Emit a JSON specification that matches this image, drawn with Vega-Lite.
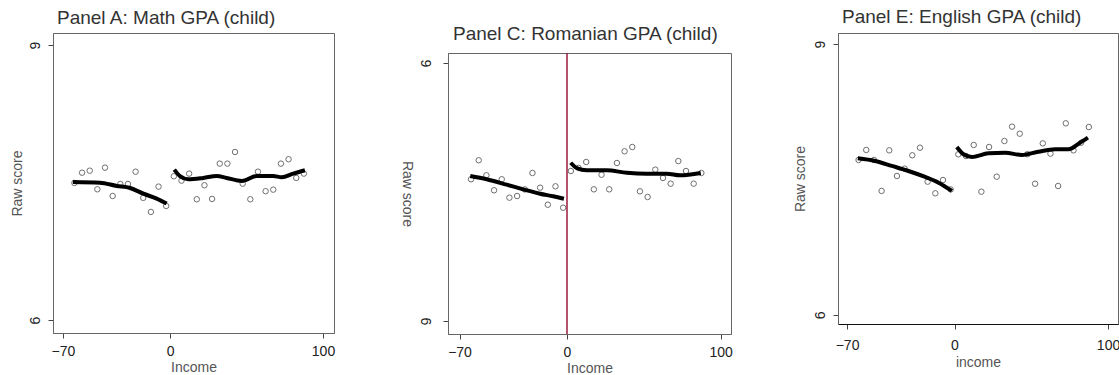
{
  "$schema": "https://vega.github.io/schema/vega-lite/v6.json",
  "padding": {"left": 9, "top": 7, "right": 0, "bottom": 0},
  "background": "white",
  "config": {
    "font": "Liberation Sans",
    "view": {"stroke": "#666", "strokeWidth": 1},
    "axis": {"grid": false, "domainColor": "#666", "tickColor": "#444", "tickSize": 5, "labelFontSize": 14, "titleFontSize": 14, "titleFontWeight": "normal", "labelColor": "#222", "titleColor": "#555", "labelFont": "Liberation Sans", "titleFont": "Liberation Sans"},
    "title": {"fontSize": 19, "fontWeight": "normal", "color": "#333", "font": "Liberation Sans"}
  },
  "datasets": {
    "points": [
      {"panel": "A", "income": -62.5, "score": 7.495}, {"panel": "A", "income": -57.5, "score": 7.607}, {"panel": "A", "income": -52.5, "score": 7.629}, {"panel": "A", "income": -47.5, "score": 7.426}, {"panel": "A", "income": -42.5, "score": 7.662}, {"panel": "A", "income": -37.5, "score": 7.353}, {"panel": "A", "income": -32.5, "score": 7.484}, {"panel": "A", "income": -27.5, "score": 7.484}, {"panel": "A", "income": -22.5, "score": 7.618}, {"panel": "A", "income": -17.5, "score": 7.332}, {"panel": "A", "income": -12.5, "score": 7.179}, {"panel": "A", "income": -7.5, "score": 7.455}, {"panel": "A", "income": -2.5, "score": 7.244},
      {"panel": "A", "income": 2.5, "score": 7.568}, {"panel": "A", "income": 7.5, "score": 7.52}, {"panel": "A", "income": 12.5, "score": 7.597}, {"panel": "A", "income": 17.5, "score": 7.317}, {"panel": "A", "income": 22.5, "score": 7.47}, {"panel": "A", "income": 27.5, "score": 7.321}, {"panel": "A", "income": 32.5, "score": 7.706}, {"panel": "A", "income": 37.5, "score": 7.706}, {"panel": "A", "income": 42.5, "score": 7.833}, {"panel": "A", "income": 47.5, "score": 7.487}, {"panel": "A", "income": 52.5, "score": 7.317}, {"panel": "A", "income": 57.5, "score": 7.618}, {"panel": "A", "income": 62.5, "score": 7.405}, {"panel": "A", "income": 67.5, "score": 7.422}, {"panel": "A", "income": 72.5, "score": 7.706}, {"panel": "A", "income": 77.5, "score": 7.754}, {"panel": "A", "income": 82.5, "score": 7.55}, {"panel": "A", "income": 87.5, "score": 7.597},
      {"panel": "C", "income": -62.5, "score": 7.648}, {"panel": "C", "income": -57.5, "score": 7.869}, {"panel": "C", "income": -52.5, "score": 7.694}, {"panel": "C", "income": -47.5, "score": 7.52}, {"panel": "C", "income": -42.5, "score": 7.648}, {"panel": "C", "income": -37.5, "score": 7.434}, {"panel": "C", "income": -32.5, "score": 7.453}, {"panel": "C", "income": -27.5, "score": 7.53}, {"panel": "C", "income": -22.5, "score": 7.721}, {"panel": "C", "income": -17.5, "score": 7.55}, {"panel": "C", "income": -12.5, "score": 7.352}, {"panel": "C", "income": -7.5, "score": 7.566}, {"panel": "C", "income": -2.5, "score": 7.317},
      {"panel": "C", "income": 2.5, "score": 7.744}, {"panel": "C", "income": 7.5, "score": 7.78}, {"panel": "C", "income": 12.5, "score": 7.849}, {"panel": "C", "income": 17.5, "score": 7.531}, {"panel": "C", "income": 22.5, "score": 7.701}, {"panel": "C", "income": 27.5, "score": 7.531}, {"panel": "C", "income": 32.5, "score": 7.837}, {"panel": "C", "income": 37.5, "score": 7.973}, {"panel": "C", "income": 42.5, "score": 8.023}, {"panel": "C", "income": 47.5, "score": 7.508}, {"panel": "C", "income": 52.5, "score": 7.442}, {"panel": "C", "income": 57.5, "score": 7.76}, {"panel": "C", "income": 62.5, "score": 7.663}, {"panel": "C", "income": 67.5, "score": 7.597}, {"panel": "C", "income": 72.5, "score": 7.86}, {"panel": "C", "income": 77.5, "score": 7.744}, {"panel": "C", "income": 82.5, "score": 7.597}, {"panel": "C", "income": 87.5, "score": 7.721},
      {"panel": "E", "income": -62.5, "score": 7.716}, {"panel": "E", "income": -57.5, "score": 7.827}, {"panel": "E", "income": -52.5, "score": 7.716}, {"panel": "E", "income": -47.5, "score": 7.373}, {"panel": "E", "income": -42.5, "score": 7.823}, {"panel": "E", "income": -37.5, "score": 7.539}, {"panel": "E", "income": -32.5, "score": 7.62}, {"panel": "E", "income": -27.5, "score": 7.768}, {"panel": "E", "income": -22.5, "score": 7.852}, {"panel": "E", "income": -17.5, "score": 7.476}, {"panel": "E", "income": -12.5, "score": 7.347}, {"panel": "E", "income": -7.5, "score": 7.494}, {"panel": "E", "income": -2.5, "score": 7.39},
      {"panel": "E", "income": 2.5, "score": 7.779}, {"panel": "E", "income": 7.5, "score": 7.76}, {"panel": "E", "income": 12.5, "score": 7.882}, {"panel": "E", "income": 17.5, "score": 7.365}, {"panel": "E", "income": 22.5, "score": 7.86}, {"panel": "E", "income": 27.5, "score": 7.531}, {"panel": "E", "income": 32.5, "score": 7.926}, {"panel": "E", "income": 37.5, "score": 8.085}, {"panel": "E", "income": 42.5, "score": 8.007}, {"panel": "E", "income": 47.5, "score": 7.78}, {"panel": "E", "income": 52.5, "score": 7.453}, {"panel": "E", "income": 57.5, "score": 7.9}, {"panel": "E", "income": 62.5, "score": 7.786}, {"panel": "E", "income": 67.5, "score": 7.428}, {"panel": "E", "income": 72.5, "score": 8.122}, {"panel": "E", "income": 77.5, "score": 7.823}, {"panel": "E", "income": 82.5, "score": 7.907}, {"panel": "E", "income": 87.5, "score": 8.081}
    ],
    "fit": [
      {"panel": "A", "side": "L", "income": -63.5, "score": 7.506}, {"panel": "A", "side": "L", "income": -45.8, "score": 7.498}, {"panel": "A", "side": "L", "income": -34.8, "score": 7.462}, {"panel": "A", "side": "L", "income": -26.1, "score": 7.44}, {"panel": "A", "side": "L", "income": -17.4, "score": 7.378}, {"panel": "A", "side": "L", "income": -8.7, "score": 7.324}, {"panel": "A", "side": "L", "income": -2.2, "score": 7.27},
      {"panel": "A", "side": "R", "income": 2.8, "score": 7.64}, {"panel": "A", "side": "R", "income": 6.5, "score": 7.57}, {"panel": "A", "side": "R", "income": 12, "score": 7.535}, {"panel": "A", "side": "R", "income": 21.8, "score": 7.55}, {"panel": "A", "side": "R", "income": 30.5, "score": 7.571}, {"panel": "A", "side": "R", "income": 37, "score": 7.55}, {"panel": "A", "side": "R", "income": 46.9, "score": 7.517}, {"panel": "A", "side": "R", "income": 56.7, "score": 7.571}, {"panel": "A", "side": "R", "income": 67.5, "score": 7.571}, {"panel": "A", "side": "R", "income": 73, "score": 7.557}, {"panel": "A", "side": "R", "income": 80.6, "score": 7.597}, {"panel": "A", "side": "R", "income": 88.2, "score": 7.634},
      {"panel": "C", "side": "L", "income": -63, "score": 7.686}, {"panel": "C", "side": "L", "income": -52.3, "score": 7.648}, {"panel": "C", "side": "L", "income": -39.3, "score": 7.585}, {"panel": "C", "side": "L", "income": -28.5, "score": 7.531}, {"panel": "C", "side": "L", "income": -17.6, "score": 7.48}, {"panel": "C", "side": "L", "income": -8.9, "score": 7.45}, {"panel": "C", "side": "L", "income": -2, "score": 7.422},
      {"panel": "C", "side": "R", "income": 2.4, "score": 7.84}, {"panel": "C", "side": "R", "income": 6.3, "score": 7.779}, {"panel": "C", "side": "R", "income": 12.8, "score": 7.752}, {"panel": "C", "side": "R", "income": 25.9, "score": 7.752}, {"panel": "C", "side": "R", "income": 38.9, "score": 7.724}, {"panel": "C", "side": "R", "income": 51.9, "score": 7.713}, {"panel": "C", "side": "R", "income": 64.9, "score": 7.713}, {"panel": "C", "side": "R", "income": 73.6, "score": 7.694}, {"panel": "C", "side": "R", "income": 87.1, "score": 7.721},
      {"panel": "E", "side": "L", "income": -63, "score": 7.735}, {"panel": "E", "side": "L", "income": -51.7, "score": 7.705}, {"panel": "E", "side": "L", "income": -40.8, "score": 7.65}, {"panel": "E", "side": "L", "income": -30, "score": 7.594}, {"panel": "E", "side": "L", "income": -19.1, "score": 7.528}, {"panel": "E", "side": "L", "income": -10.4, "score": 7.465}, {"panel": "E", "side": "L", "income": -1.7, "score": 7.373},
      {"panel": "E", "side": "R", "income": 1.5, "score": 7.86}, {"panel": "E", "side": "R", "income": 5.9, "score": 7.779}, {"panel": "E", "side": "R", "income": 11.3, "score": 7.749}, {"panel": "E", "side": "R", "income": 22.1, "score": 7.79}, {"panel": "E", "side": "R", "income": 33, "score": 7.797}, {"panel": "E", "side": "R", "income": 43.9, "score": 7.771}, {"panel": "E", "side": "R", "income": 54.7, "score": 7.808}, {"panel": "E", "side": "R", "income": 65.6, "score": 7.834}, {"panel": "E", "side": "R", "income": 74.3, "score": 7.834}, {"panel": "E", "side": "R", "income": 80.8, "score": 7.896}, {"panel": "E", "side": "R", "income": 86.9, "score": 7.963}
    ],
    "cutoff": [{"panel": "C", "income": 0}]
  },
  "spacing": 59,
  "hconcat": [
    {
      "spacing": 62,
      "hconcat": [
        {
          "width": 281, "height": 300,
          "title": {"text": "Panel A: Math GPA (child)", "anchor": "start", "frame": "group", "dx": 4, "offset": 5},
          "layer": [
            {"data": {"name": "points"}, "transform": [{"filter": "datum.panel == 'A'"}],
             "mark": {"type": "point", "shape": "circle", "filled": false, "size": 30, "stroke": "#333", "strokeWidth": 1},
             "encoding": {
               "x": {"field": "income", "type": "quantitative", "scale": {"domain": [-76.5, 107.2], "nice": false, "zero": false}, "axis": {"values": [-70, 0, 100], "format": "d", "title": "Income", "labelPadding": 6, "titlePadding": 2}},
               "y": {"field": "score", "type": "quantitative", "scale": {"domain": [5.858, 9.131], "nice": false, "zero": false}, "axis": {"values": [6, 9], "format": "d", "title": "Raw score", "labelAngle": 270, "labelAlign": "center", "labelBaseline": "bottom", "labelPadding": 6, "titlePadding": 4}}
             }},
            {"data": {"name": "fit"}, "transform": [{"filter": "datum.panel == 'A'"}],
             "mark": {"type": "line", "color": "black", "strokeWidth": 4, "interpolate": "monotone"},
             "encoding": {"x": {"field": "income", "type": "quantitative"}, "y": {"field": "score", "type": "quantitative"}, "detail": {"field": "side"}}}
          ]
        },
        {
          "bounds": "flush",
          "spacing": 19,
          "vconcat": [
            {"width": 283, "height": 1, "data": {"values": []}, "mark": {"type": "point", "opacity": 0}, "encoding": {}, "view": {"stroke": null}},
            {
              "width": 283, "height": 281,
              "title": {"text": "Panel C: Romanian GPA (child)", "anchor": "start", "frame": "group", "dx": 5, "offset": 8},
              "layer": [
                {"data": {"name": "points"}, "transform": [{"filter": "datum.panel == 'C'"}],
                 "mark": {"type": "point", "shape": "circle", "filled": false, "size": 30, "stroke": "#333", "strokeWidth": 1},
                 "encoding": {
                   "x": {"field": "income", "type": "quantitative", "scale": {"domain": [-77.5, 106.8], "nice": false, "zero": false}, "axis": {"values": [-70, 0, 100], "format": "d", "title": "Income", "labelPadding": 6, "titlePadding": 2}},
                   "y": {"field": "score", "type": "quantitative", "scale": {"domain": [5.849, 9.116], "nice": false, "zero": false}, "axis": {"values": [6, 9], "format": "d", "title": "Raw score", "titleAngle": 90, "titleBaseline": "top", "labelAngle": 90, "labelAlign": "center", "labelBaseline": "top", "labelPadding": 12, "titlePadding": 4}}
                 }},
                {"data": {"name": "fit"}, "transform": [{"filter": "datum.panel == 'C'"}],
                 "mark": {"type": "line", "color": "black", "strokeWidth": 4, "interpolate": "monotone"},
                 "encoding": {"x": {"field": "income", "type": "quantitative"}, "y": {"field": "score", "type": "quantitative"}, "detail": {"field": "side"}}},
                {"data": {"name": "cutoff"},
                 "mark": {"type": "rule", "color": "#9b1b3f", "strokeWidth": 1.5},
                 "encoding": {"x": {"field": "income", "type": "quantitative"}}}
              ]
            }
          ]
        }
      ]
    },
    {
      "width": 280, "height": 291,
      "title": {"text": "Panel E: English GPA (child)", "anchor": "start", "frame": "group", "dx": 4, "offset": 6},
      "layer": [
        {"data": {"name": "points"}, "transform": [{"filter": "datum.panel == 'E'"}],
         "mark": {"type": "point", "shape": "circle", "filled": false, "size": 30, "stroke": "#333", "strokeWidth": 1},
         "encoding": {
           "x": {"field": "income", "type": "quantitative", "scale": {"domain": [-75.9, 106.5], "nice": false, "zero": false}, "axis": {"values": [-70, 0, 100], "format": "d", "title": "income", "labelPadding": 9, "titlePadding": 3, "domainColor": "#111"}},
           "y": {"field": "score", "type": "quantitative", "scale": {"domain": [5.9, 9.122], "nice": false, "zero": false}, "axis": {"values": [6, 9], "format": "d", "title": "Raw score", "labelAngle": 270, "labelAlign": "center", "labelBaseline": "bottom", "labelPadding": 6, "titlePadding": 6}}
         }},
        {"data": {"name": "fit"}, "transform": [{"filter": "datum.panel == 'E'"}],
         "mark": {"type": "line", "color": "black", "strokeWidth": 4, "interpolate": "monotone"},
         "encoding": {"x": {"field": "income", "type": "quantitative"}, "y": {"field": "score", "type": "quantitative"}, "detail": {"field": "side"}}}
      ]
    }
  ]
}
